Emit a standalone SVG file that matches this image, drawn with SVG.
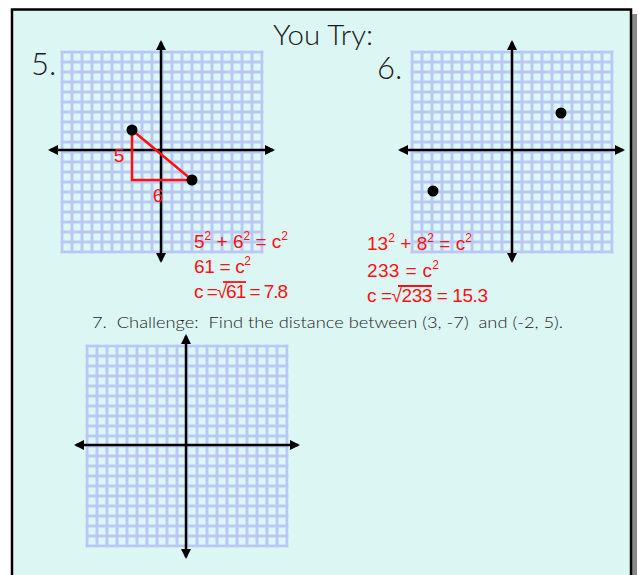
<svg xmlns="http://www.w3.org/2000/svg" width="639" height="575" viewBox="0 0 639 575">
<style>
.title{font-family:"Lato","Liberation Sans","DejaVu Sans",sans-serif;font-weight:300;fill:#1a1a1a}
.red{font-family:"Liberation Sans","DejaVu Sans",sans-serif;fill:#ff1010;font-size:19px}
.sup{font-size:12px}
.axis{stroke:#000;stroke-width:2.5;fill:none;marker-start:url(#ah);marker-end:url(#ah)}
.tri{stroke:#ff1010;stroke-width:2.5;fill:none}
.bar{stroke:#ff1010;stroke-width:1.8}
</style>
<defs>
<pattern id="grid" patternUnits="userSpaceOnUse" width="10" height="10">
<rect width="10" height="10" fill="#bcc8f4"/>
<rect x="3" y="3" width="7" height="7" fill="#dcf7f7"/>
</pattern>
<marker id="ah" viewBox="0 0 10 10" refX="8" refY="5" markerWidth="4" markerHeight="4" orient="auto-start-reverse" markerUnits="strokeWidth">
<path d="M0,0 L10,5 L0,10 z" fill="#000"/>
</marker>
</defs>
<rect width="639" height="575" fill="#fff"/>
<rect x="632" y="14" width="5" height="561" fill="#8a8a8a"/>
<rect x="12" y="9.5" width="619" height="580" fill="#dcf6f4" stroke="#000" stroke-width="2.5"/>
<text class="title" x="273" y="45" font-size="27" textLength="100" lengthAdjust="spacingAndGlyphs">You Try:</text>
<text class="title" x="31" y="75" font-size="31">5.</text>
<text class="title" x="377" y="79" font-size="31">6.</text>
<g id="graph5">
<g transform="translate(60.5,50.5)"><rect width="203" height="203" fill="url(#grid)"/></g>
<path class="axis" d="M50,150 H273"/>
<path class="axis" d="M161,261 V42"/>
<path class="tri" d="M132,130 V180 H192 Z"/>
<circle cx="132" cy="130" r="5.5" fill="#000"/>
<circle cx="192" cy="180" r="5.5" fill="#000"/>
<text class="red" x="119" y="162" text-anchor="middle" font-size="20">5</text>
<text class="red" x="158" y="202" text-anchor="middle" font-size="20">6</text>
</g>
<g id="eq5">
<text class="red" x="194" y="248" textLength="94">5<tspan class="sup" dy="-8">2</tspan><tspan dy="8"> + 6</tspan><tspan class="sup" dy="-8">2</tspan><tspan dy="8"> = c</tspan><tspan class="sup" dy="-8">2</tspan></text>
<text class="red" x="194" y="273" textLength="57">61 = c<tspan class="sup" dy="-8">2</tspan></text>
<text class="red" x="194" y="298" textLength="94">c =√61 = 7.8</text>
<line class="bar" x1="223" y1="282" x2="246" y2="282"/>
</g>
<g id="graph6">
<g transform="translate(410.5,50.5)"><rect width="203" height="203" fill="url(#grid)"/></g>
<path class="axis" d="M400,150 H623"/>
<path class="axis" d="M512,261 V42"/>
<circle cx="561" cy="113" r="5.5" fill="#000"/>
<circle cx="433" cy="191" r="5.5" fill="#000"/>
</g>
<g id="eq6">
<text class="red" x="367" y="250" textLength="105">13<tspan class="sup" dy="-8">2</tspan><tspan dy="8"> + 8</tspan><tspan class="sup" dy="-8">2</tspan><tspan dy="8"> = c</tspan><tspan class="sup" dy="-8">2</tspan></text>
<text class="red" x="367" y="277" textLength="72">233 = c<tspan class="sup" dy="-8">2</tspan></text>
<text class="red" x="367" y="302" textLength="121">c =√233 = 15.3</text>
<line class="bar" x1="398" y1="286" x2="432" y2="286"/>
</g>
<text class="title" x="92" y="328" font-size="16" xml:space="preserve" textLength="471" lengthAdjust="spacingAndGlyphs">7.  Challenge:  Find the distance between (3, -7)  and (-2, 5).</text>
<g id="graph7">
<g transform="translate(85.5,344.5)"><rect width="203" height="203" fill="url(#grid)"/></g>
<path class="axis" d="M76,445 H298"/>
<path class="axis" d="M186,557 V336"/>
</g>
</svg>
